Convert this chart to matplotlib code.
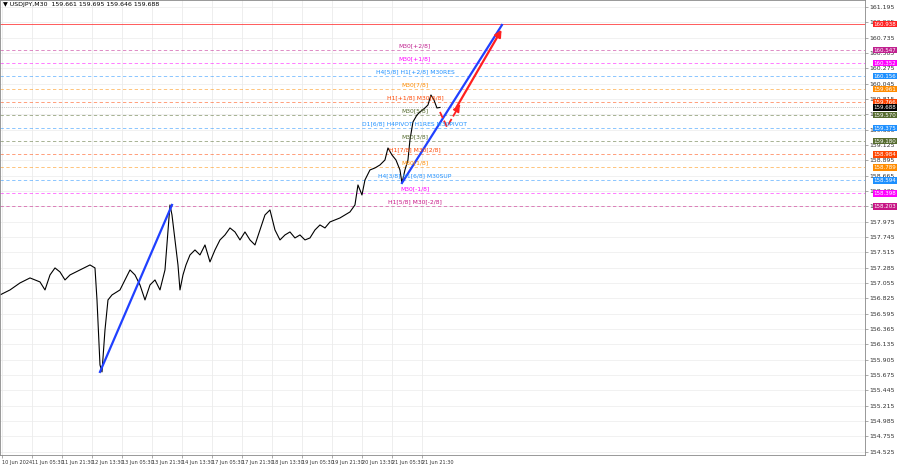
import matplotlib.pyplot as plt

# price path (bar position, close)
bars = [0, 10, 20, 30, 40, 45, 50, 55, 60, 65, 70, 80, 90, 95, 97, 100, 102, 105, 108, 112,
        120, 125, 130, 135, 140, 145, 150, 155, 160, 165, 170, 172, 175, 178, 180, 183, 186, 190,
        195, 200, 205, 210, 215, 220, 225, 230, 235, 240, 245, 250, 255, 260, 265, 270, 275, 280,
        285, 290, 295, 300, 305, 310, 315, 320, 325, 330, 335, 340, 345, 350, 355, 358, 362, 365,
        370, 375, 380, 385, 388, 392, 396, 400, 402, 405, 408, 410, 413, 417, 420, 425, 428, 431,
        434, 437, 440]
closes = [156.875, 156.95, 157.055, 157.13, 157.07, 156.95, 157.175, 157.28, 157.22, 157.10,
          157.175, 157.25, 157.325, 157.28, 156.80, 155.825, 155.72, 156.35, 156.80, 156.875,
          156.95, 157.10, 157.25, 157.175, 157.025, 156.80, 157.025, 157.10, 156.95, 157.25,
          158.225, 158.075, 157.70, 157.325, 156.95, 157.175, 157.325, 157.475, 157.55, 157.475,
          157.625, 157.37, 157.55, 157.70, 157.775, 157.88, 157.82, 157.70, 157.82, 157.70,
          157.625, 157.85, 158.075, 158.15, 157.85, 157.70, 157.775, 157.82, 157.73, 157.775,
          157.70, 157.73, 157.85, 157.925, 157.88, 157.97, 158.00, 158.03, 158.075, 158.12,
          158.225, 158.525, 158.375, 158.60, 158.75, 158.78, 158.825, 158.90, 159.08, 158.975,
          158.90, 158.75, 158.555, 158.75, 158.90, 159.20, 159.47, 159.575, 159.62, 159.68,
          159.725, 159.875, 159.80, 159.68, 159.688]

# murrey levels
levels = [160.547, 160.352, 160.156, 159.961, 159.766, 159.570, 159.375, 159.180, 158.984,
          158.789, 158.594, 158.398, 158.203]
level_names = ['M30[+2/8]', 'M30[+1/8]', 'H4[5/8] H1[+2/8] M30RES', 'M30[7/8]',
               'H1[+1/8] M30[6/8]', 'M30[5/8]', 'D1[6/8] H4PIVOT H1RES M30PIVOT', 'M30[3/8]',
               'H1[7/8] M30[2/8]', 'M30[1/8]', 'H4[3/8] H1[6/8] M30SUP', 'M30[-1/8]',
               'H1[5/8] M30[-2/8]']
level_colors = ['#c0208f', '#ff00ff', '#1e90ff', '#ff8c00', '#ff4500', '#556b2f', '#1e90ff',
                '#556b2f', '#ff4500', '#ff8c00', '#1e90ff', '#ff00ff', '#c71585']

yticks = [161.195, 160.965, 160.735, 160.505, 160.275, 160.045, 159.815, 159.585, 159.355,
          159.125, 158.895, 158.665, 158.435, 158.205, 157.975, 157.745, 157.515, 157.285,
          157.055, 156.825, 156.595, 156.365, 156.135, 155.905, 155.675, 155.445, 155.215,
          154.985, 154.755, 154.525]
xtick_labels = ['10 Jun 2024', '11 Jun 05:30', '11 Jun 21:30', '12 Jun 13:30', '13 Jun 05:30',
                '13 Jun 21:30', '14 Jun 13:30', '17 Jun 05:30', '17 Jun 21:30', '18 Jun 13:30',
                '19 Jun 05:30', '19 Jun 21:30', '20 Jun 13:30', '21 Jun 05:30', '21 Jun 21:30']
xtick_pos = [2 + 30 * i for i in range(len(xtick_labels))]

trend1 = ([100, 172], [155.72, 158.225])
trend2 = ([402, 502], [158.555, 160.925])
fc_dash = ([440, 447, 458], [159.62, 159.395, 159.68])
fc_solid = ([455, 503], [159.65, 160.89])
top_line = 160.938
last = 159.688

fig = plt.figure(figsize=(9, 4.68), dpi=100)
ax = fig.add_axes([0.0, 0.028, 0.961, 0.972])
ax.set_xlim(0, 865)
ax.set_ylim(154.475, 161.30)

for x in xtick_pos:
    ax.axvline(x, color='#e8e8e8', lw=0.5, zorder=0)
for y in yticks:
    ax.axhline(y, color='#ececec', lw=0.5, zorder=0)

ax.axhline(top_line, color='#ff4040', lw=0.6)
for lv, nm, c in zip(levels, level_names, level_colors):
    ax.axhline(lv, color=c, lw=0.6, ls=(0, (4, 3)), alpha=0.6)
    ax.text(415, lv + 0.03, nm, color=c, fontsize=4.3, ha='center', va='bottom')
ax.axhline(last, color='#999999', lw=0.5, ls=':')

ax.plot(bars, closes, color='black', lw=0.8)
ax.plot(*trend1, color='#2040ff', lw=1.6)
ax.plot(*trend2, color='#2040ff', lw=1.6)
ax.plot(*fc_dash, color='#ff2020', lw=1.3, ls='--')
ax.annotate('', xy=(fc_dash[0][2] + 2, fc_dash[1][2] + 0.05), xytext=(fc_dash[0][2], fc_dash[1][2]),
            arrowprops=dict(arrowstyle='-|>', color='#ff2020', lw=1.2))
ax.annotate('', xy=(fc_solid[0][1], fc_solid[1][1]), xytext=(fc_solid[0][0], fc_solid[1][0]),
            arrowprops=dict(arrowstyle='-|>', color='#ff2020', lw=1.6))

ax.yaxis.tick_right()
ax.set_yticks(yticks)
ax.set_yticklabels([f'{v:.3f}' for v in yticks], fontsize=4.5, color='#333333')
ax.set_xticks(xtick_pos)
ax.set_xticklabels(xtick_labels, fontsize=3.6, color='#333333', ha='left')
ax.tick_params(length=2, width=0.5, pad=1.5, color='#888888')
for s in ax.spines.values():
    s.set_color('#888888')
    s.set_linewidth(0.6)

# price boxes on the right axis
boxes = [(top_line, '#ff2020')] + list(zip(levels, level_colors)) + [(last, '#000000')]
for v, c in boxes:
    ax.text(1.01, v, f'{v:.3f}', transform=ax.get_yaxis_transform(), fontsize=4.0,
            color='white', va='center', ha='left',
            bbox=dict(boxstyle='square,pad=0.12', fc=c, ec='none'))

ax.text(0.003, 0.995, '\u25bc USDJPY,M30  159.661 159.695 159.646 159.688', transform=ax.transAxes,
        fontsize=4.5, va='top', ha='left')

fig.savefig('out.png', dpi=100)
